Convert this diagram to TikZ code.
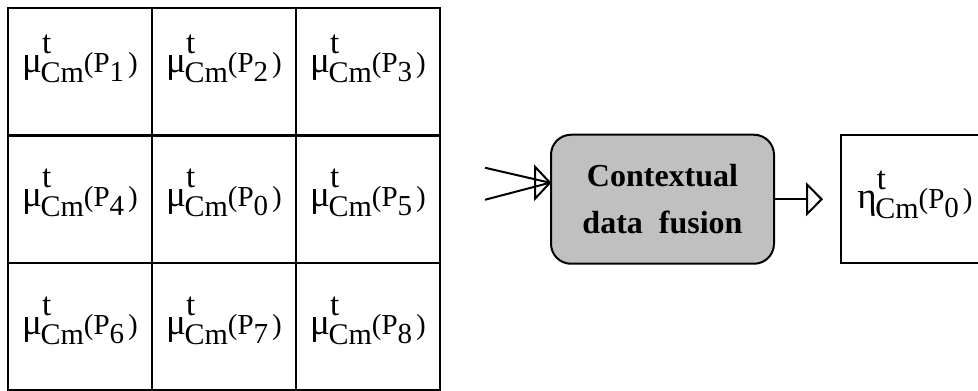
\documentclass[tikz,border=0pt]{standalone}
\usepackage{fontspec}
\setmainfont{Liberation Serif}
\usepackage{xcolor}
\usetikzlibrary{arrows.meta, positioning, calc}
\definecolor{fusegray}{HTML}{C0C0C0}
\tikzset{
	cell/.style={rectangle, draw, line width=2.3pt, minimum width=144pt, minimum height=127.5pt, inner sep=0pt, outer sep=0pt, text height=37pt, text depth=22pt, font=\fontsize{30}{30}\selectfont},
	toprow/.style={text depth=35pt},
	fusebox/.style={rectangle, draw, line width=2pt, rounded corners=20pt, fill=fusegray, minimum width=223pt, minimum height=129pt, align=center, font=\fontsize{32}{47}\selectfont\bfseries},
	outbox/.style={rectangle, draw, line width=2pt, minimum width=138pt, minimum height=128pt, inner sep=0pt, text height=37pt, text depth=18pt, font=\fontsize{30}{30}\selectfont},
	flow/.style={draw, line width=2pt, -{Triangle[open, length=17pt, width=34pt]}}
}
% membership value mu^t_Cm(P_i)
\newcommand\degof[2]{{\fontsize{37}{37}\selectfont #1}\rlap{\raisebox{19pt}{\fontsize{33}{33}\selectfont t}}\kern-1.5pt\raisebox{-10pt}{Cm}{\fontsize{29}{29}\selectfont(P\raisebox{-9pt}{#2}\kern4pt)}}

\begin{document}
\begin{tikzpicture}[x=1pt, y=1pt]
	\useasboundingbox (0,0) rectangle (978,391);
	
	% 3x3 neighbourhood of P0
	\node[cell, toprow] (p1) at (80,319.25) {\degof{μ}{1}};
	\node[cell, toprow, right=0pt of p1] (p2) {\degof{μ}{2}};
	\node[cell, toprow, right=0pt of p2] (p3) {\degof{μ}{3}};
	\node[cell, below=0pt of p1] (p4) {\degof{μ}{4}};
	\node[cell, right=0pt of p4] (p0) {\degof{μ}{0}};
	\node[cell, right=0pt of p0] (p5) {\degof{μ}{5}};
	\node[cell, below=0pt of p4] (p6) {\degof{μ}{6}};
	\node[cell, right=0pt of p6] (p7) {\degof{μ}{7}};
	\node[cell, right=0pt of p7] (p8) {\degof{μ}{8}};
	
	% Fusion block and result
	\node[fusebox, right=110pt of p5] (fuse) {Contextual\\data\ \ fusion};
	\node[outbox, right=65pt of fuse] (out) {\hspace*{10pt}\degof{η}{0}};
	
	% Input lines meeting at one head
	\coordinate (tip) at ($(fuse.west)+(0,16.5)$);
	\coordinate (in1) at ($(tip)+(-65,15)$);
	\coordinate (in2) at ($(tip)+(-65,-17)$);
	\draw[line width=2pt] (in1) -- (tip);
	\draw[line width=2pt] (in2) -- (tip);
	\draw[line width=2pt] (tip) -- ++(-15,16) -- ++(0,-32) -- cycle;
	
	\path[flow, shorten >=17pt] (fuse) -- (out);
\end{tikzpicture}
\end{document}
